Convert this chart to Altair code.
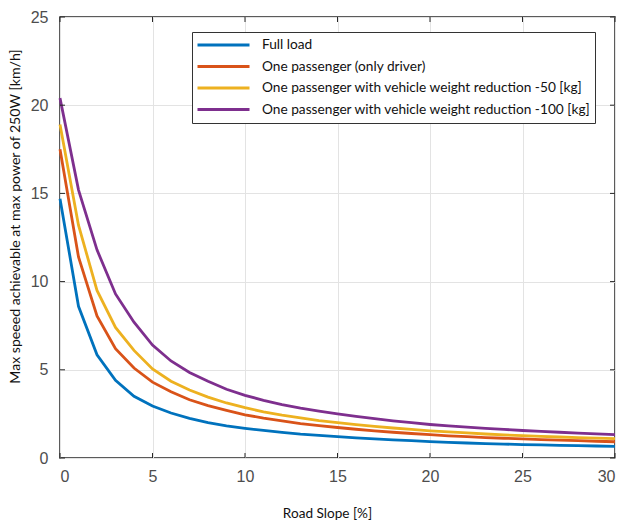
import altair as alt
import pandas as pd

slope = list(range(31))
full_load = [14.7, 8.6, 5.85, 4.4, 3.5, 2.95, 2.55, 2.25, 2.0, 1.82, 1.68, 1.56, 1.45, 1.35, 1.28, 1.21,
             1.14, 1.08, 1.03, 0.98, 0.93, 0.89, 0.85, 0.82, 0.79, 0.76, 0.74, 0.72, 0.70, 0.68, 0.66]
one_passenger = [17.5, 11.4, 8.05, 6.2, 5.1, 4.3, 3.75, 3.3, 2.97, 2.7, 2.45, 2.26, 2.1, 1.95, 1.83, 1.73,
                 1.63, 1.54, 1.46, 1.39, 1.32, 1.26, 1.21, 1.16, 1.12, 1.08, 1.04, 1.01, 0.98, 0.95, 0.92]
reduction_50 = [18.9, 13.2, 9.5, 7.4, 6.1, 5.05, 4.35, 3.85, 3.45, 3.12, 2.85, 2.62, 2.43, 2.27, 2.12, 2.0,
                1.89, 1.79, 1.7, 1.62, 1.54, 1.48, 1.42, 1.36, 1.31, 1.27, 1.23, 1.19, 1.16, 1.13, 1.1]
reduction_100 = [20.4, 15.2, 11.8, 9.3, 7.7, 6.4, 5.5, 4.85, 4.35, 3.9, 3.55, 3.27, 3.03, 2.83, 2.66, 2.5,
                 2.36, 2.23, 2.11, 2.0, 1.9, 1.82, 1.75, 1.68, 1.62, 1.56, 1.51, 1.46, 1.41, 1.37, 1.33]

names = ["Full load",
         "One passenger (only driver)",
         "One passenger with vehicle weight reduction -50 [kg]",
         "One passenger with vehicle weight reduction -100 [kg]"]
colors = ["#0072BD", "#D95319", "#EDB120", "#7E2F8E"]
x_ticks = [0, 5, 10, 15, 20, 25, 30]
y_ticks = [0, 5, 10, 15, 20, 25]

rows = []
for i, (name, vals) in enumerate(zip(names, [full_load, one_passenger, reduction_50, reduction_100])):
    for s, v in zip(slope, vals):
        rows.append({"slope": s, "speed": v, "series": name, "k": i})
df = pd.DataFrame(rows)

W, H = 555, 441
xscale = alt.Scale(domain=[0, 30], nice=False)
yscale = alt.Scale(domain=[0, 25], nice=False)
TXT = "#262626"
LBL = "#4d4d4d"

x_axis = alt.Axis(values=x_ticks, title="Road Slope [%]", titleX=267, titleY=48,
                  titleBaseline="top", titleAlign="center", labelPadding=10,
                  titleFontSize=13.6)
y_axis = alt.Axis(values=y_ticks, title="Max speeed achievable at max power of 250W [km/h]",
                  titleX=-45, titleY=199, titleAngle=-90, titleAlign="center",
                  titleBaseline="middle", labelPadding=12, titleFontSize=14.1)

lines = alt.Chart(df).mark_line(strokeWidth=2.8).encode(
    x=alt.X("slope:Q", scale=xscale, axis=x_axis),
    y=alt.Y("speed:Q", scale=yscale, axis=y_axis),
    color=alt.Color("series:N", scale=alt.Scale(domain=names, range=colors),
                    legend=alt.Legend(title=None, orient="none", legendX=132, legendY=15,
                                      symbolType="stroke", symbolSize=2704, symbolStrokeWidth=3,
                                      clipHeight=18, rowPadding=3.5, labelOffset=11,
                                      labelFont="Lato", labelFontSize=13.7, labelColor="#111111",
                                      labelLimit=500, padding=4,
                                      strokeColor="#333333", fillColor="white")),
    order="k:Q",
    detail="series:N",
)

xt = pd.DataFrame({"slope": x_ticks})
yt = pd.DataFrame({"speed": y_ticks})
tick_color = "#262626"
xb = alt.Chart(xt).mark_rule(color=tick_color, strokeWidth=1).encode(
    x=alt.X("slope:Q", scale=xscale, axis=x_axis), y=alt.value(H), y2=alt.value(H - 5))
xtop = alt.Chart(xt).mark_rule(color=tick_color, strokeWidth=1).encode(
    x=alt.X("slope:Q", scale=xscale, axis=x_axis), y=alt.value(0), y2=alt.value(5))
yl = alt.Chart(yt).mark_rule(color=tick_color, strokeWidth=1).encode(
    y=alt.Y("speed:Q", scale=yscale, axis=y_axis), x=alt.value(0), x2=alt.value(5))
yr = alt.Chart(yt).mark_rule(color=tick_color, strokeWidth=1).encode(
    y=alt.Y("speed:Q", scale=yscale, axis=y_axis), x=alt.value(W), x2=alt.value(W - 5))

chart = alt.layer(lines, xb, xtop, yl, yr).properties(
    width=W, height=H,
    background="white",
    autosize=alt.AutoSizeParams(type="none"),
    padding={"left": 60, "top": 17, "right": 7, "bottom": 62},
).configure_view(
    stroke=TXT, strokeWidth=1.5
).configure_axis(
    domain=False, ticks=False, grid=True, gridColor="#e3e3e3", gridWidth=1,
    labelFont="Liberation Sans", labelFontSize=16, labelColor=LBL,
    titleFont="Lato", titleFontSize=13, titleFontWeight="normal", titleColor="#111111",
)

chart.save("out.html", embed_options={"renderer": "svg", "actions": False})
